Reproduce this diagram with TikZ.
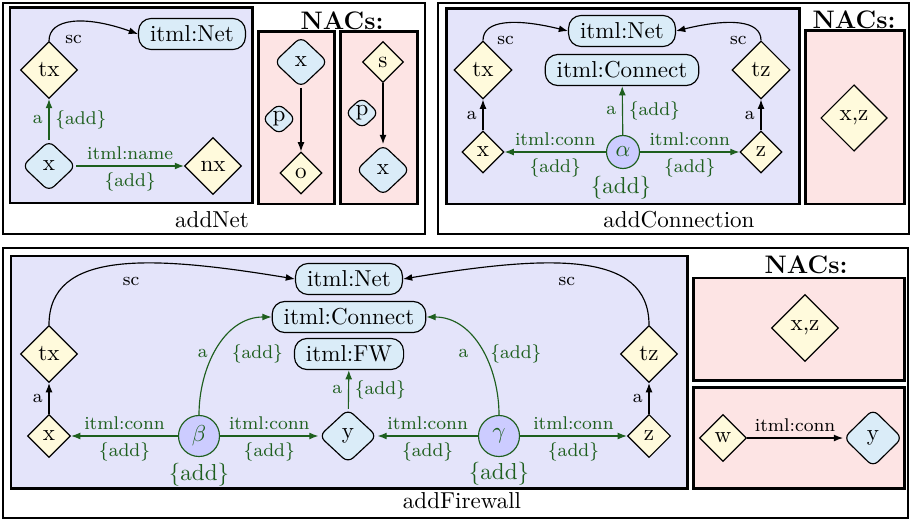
\documentclass[tikz,border=0pt]{standalone}
\usetikzlibrary{shapes.geometric,arrows.meta}
\definecolor{bluebg}{RGB}{228,228,250}
\definecolor{redbg}{RGB}{253,228,228}
\definecolor{yel}{RGB}{255,250,220}
\definecolor{lblue}{RGB}{218,236,248}
\definecolor{circfill}{RGB}{204,204,255}
\definecolor{grn}{RGB}{30,95,30}
\tikzset{
  outerframe/.style={draw=black, line width=0.9pt},
  rulebox/.style={draw=black, line width=1.3pt, fill=bluebg},
  nacbox/.style={draw=black, line width=1.3pt, fill=redbg},
  dia/.style={diamond, draw, fill=yel, inner sep=0pt, minimum width=#1, minimum height=#1, line width=0.5pt},
  rdia/.style 2 args={diamond, draw, fill=lblue, rounded corners=3pt, inner sep=0pt, minimum width=#1, minimum height=#2, line width=0.5pt},
  rbox/.style={rectangle, rounded corners=5.5pt, draw, fill=lblue, inner xsep=5pt, inner ysep=0pt, minimum height=13.5pt, line width=0.5pt},
  circnode/.style={circle, draw=grn, fill=circfill, text=grn, inner sep=0pt, minimum size=#1, line width=0.5pt},
  garr/.style={draw=grn, -{Latex[length=4pt,width=3pt]}, line width=0.5pt},
  barr/.style={draw=black, -{Latex[length=4pt,width=3pt]}, line width=0.5pt},
  glbl/.style={font=\footnotesize, text=grn, inner sep=2.5pt},
  blbl/.style={font=\footnotesize, text=black, inner sep=2.5pt},
  biglbl/.style={font=\normalsize, text=grn},
  nacttl/.style={font=\fontsize{11}{13}\selectfont\bfseries},
}
\begin{document}
\begin{tikzpicture}[x=0.434pt, y=-0.434pt]
\useasboundingbox (0,0) rectangle (912,521);

% ---------------- frames and boxes ----------------
\draw[outerframe] (3,3) rectangle (425,234);
\draw[outerframe] (438,3) rectangle (909,234);
\draw[outerframe] (3,248) rectangle (908,518);

\draw[rulebox] (10,8) rectangle (252,203);
\draw[nacbox] (258,32) rectangle (334,204);
\draw[nacbox] (340,32) rectangle (417,204);

\draw[rulebox] (446,9) rectangle (799,204);
\draw[nacbox] (805,31) rectangle (904,204);

\draw[rulebox] (11,256) rectangle (687,488);
\draw[nacbox] (693,278) rectangle (904,380);
\draw[nacbox] (693,387) rectangle (904,488);

\node (tNet) at (212,220) {addNet};
\node (tConn) at (679,220) {addConnection};
\node (tFW) at (462,501) {addFirewall};
\node[nacttl] (nacA) at (342,21) {NACs:};
\node[nacttl] (nacB) at (854,20) {NACs:};
\node[nacttl] (nacC) at (806,265) {NACs:};

% ---------------- addNet ----------------
\node[rbox] (netN) at (192,34) {itml:Net};
\node[dia=24.7pt] (txN) at (49,70) {tx};
\node[rdia={23.3pt}{22pt}] (xN) at (49,166) {x};
\node[dia=24.7pt] (nxN) at (213,166) {nx};
\draw[garr] (xN) -- node[above,glbl]{itml:name} node[below,glbl]{\{add\}} (nxN);
\draw[garr] (xN) -- node[left,glbl]{a} node[right,glbl]{\{add\}} (txN);
\draw[barr] (txN.north) .. controls (49,18) and (85,15) .. node[pos=0.5,below=3pt,blbl]{sc} (netN.west);

\node[rdia={23.3pt}{22pt}] (xP1) at (301,62) {x};
\node[dia=18.2pt] (oP) at (301,173) {o};
\node[rdia={14.7pt}{13.6pt}] (pP1) at (279,119) {p};
\draw[barr] (xP1) -- (oP);

\node[dia=17.8pt] (sP) at (383,62) {s};
\node[rdia={23.3pt}{22pt}] (xP2) at (383,170) {x};
\node[rdia={14.7pt}{13.6pt}] (pP2) at (362,113) {p};
\draw[barr] (sP) -- (xP2);

% ---------------- addConnection ----------------
\node[rbox] (netC) at (622,31) {itml:Net};
\node[rbox] (connC) at (622,70) {itml:Connect};
\node[dia=25.2pt] (txC) at (483,70) {tx};
\node[dia=25.2pt] (tzC) at (761,70) {tz};
\node[dia=18.2pt] (xC) at (483,152) {x};
\node[dia=18.2pt] (zC) at (761,152) {z};
\node[circnode=14.3pt] (alpha) at (623,152) {$\alpha$};
\node[biglbl] (addA) at (621,188) {\{add\}};
\draw[garr] (alpha) -- node[above,glbl]{itml:conn} node[below,glbl]{\{add\}} (xC);
\draw[garr] (alpha) -- node[above,glbl]{itml:conn} node[below,glbl]{\{add\}} (zC);
\draw[garr] (alpha) -- node[left,glbl]{a} node[right,glbl]{\{add\}} (connC);
\draw[barr] (xC) -- node[left,blbl]{a} (txC);
\draw[barr] (zC) -- node[left,blbl]{a} (tzC);
\draw[barr] (txC.north) .. controls (483,20) and (515,18) .. node[pos=0.5,below=3pt,blbl]{sc} (netC.west);
\draw[barr] (tzC.north) .. controls (761,20) and (729,18) .. node[pos=0.5,below=3pt,blbl]{sc} (netC.east);

\node[dia=28.8pt] (xzC) at (854,118) {x,z};

% ---------------- addFirewall ----------------
\node[rbox] (netF) at (349,279) {itml:Net};
\node[rbox] (connF) at (349,317) {itml:Connect};
\node[rbox] (fwF) at (349,354) {itml:FW};
\node[dia=24.7pt] (txF) at (49,354) {tx};
\node[dia=24.7pt] (tzF) at (649,354) {tz};
\node[dia=18.7pt] (xF) at (49,436) {x};
\node[dia=18.7pt] (zF) at (649,436) {z};
\node[circnode=17.8pt] (beta) at (199,436) {$\beta$};
\node[circnode=17.8pt] (gamma) at (499,436) {$\gamma$};
\node[rdia={25.1pt}{23.3pt}] (yF) at (348,436) {y};
\node[biglbl] (addB) at (199,475) {\{add\}};
\node[biglbl] (addG) at (499,474) {\{add\}};

\draw[garr] (beta) -- node[above,glbl]{itml:conn} node[below,glbl]{\{add\}} (xF);
\draw[garr] (beta) -- node[above,glbl]{itml:conn} node[below,glbl]{\{add\}} (yF);
\draw[garr] (gamma) -- node[above,glbl]{itml:conn} node[below,glbl]{\{add\}} (yF);
\draw[garr] (gamma) -- node[above,glbl]{itml:conn} node[below,glbl]{\{add\}} (zF);
\draw[garr] (yF) -- node[left,glbl]{a} node[right,glbl]{\{add\}} (fwF);
\draw[garr] (beta.north) to[out=90,in=180] node[pos=0.45,left,glbl]{a} node[pos=0.45,right=5pt,glbl]{\{add\}} (connF.west);
\draw[garr] (gamma.north) to[out=90,in=0] node[pos=0.45,left=4pt,glbl]{a} node[pos=0.45,right,glbl]{\{add\}} (connF.east);
\draw[barr] (xF) -- node[left,blbl]{a} (txF);
\draw[barr] (zF) -- node[left,blbl]{a} (tzF);
\draw[barr] (txF.north) .. controls (49,250) and (150,255) .. node[pos=0.55,below=3pt,blbl]{sc} (netF.west);
\draw[barr] (tzF.north) .. controls (649,250) and (548,255) .. node[pos=0.55,below=3pt,blbl]{sc} (netF.east);

\node[dia=29.1pt] (xzF) at (805,328) {x,z};
\node[dia=20.4pt] (wN) at (723,438) {w};
\node[rdia={25.5pt}{25pt}] (yN) at (873,438) {y};
\draw[barr] (wN) -- node[above,blbl]{itml:conn} (yN);
\end{tikzpicture}
\end{document}
